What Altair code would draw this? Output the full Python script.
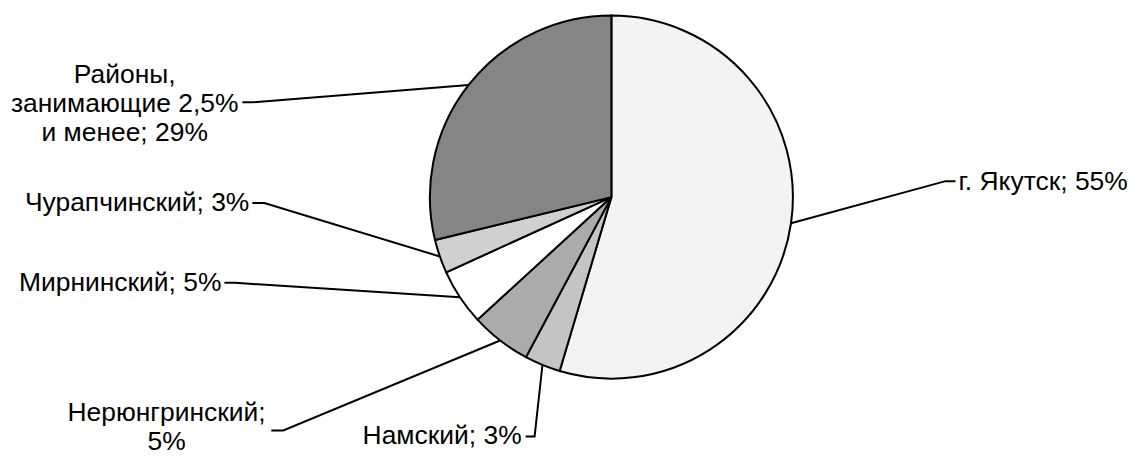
import math
import altair as alt
import pandas as pd

# ---- data ----
categories = ["г. Якутск", "Намский", "Нерюнгринский", "Мирнинский", "Чурапчинский",
              "Районы, занимающие 2,5% и менее"]
shares = [54.6, 3.2, 5.4, 5.0, 3.0, 28.8]
labels = ["г. Якутск; 55%", "Намский; 3%", "Нерюнгринский;\n5%", "Мирнинский; 5%",
          "Чурапчинский; 3%", "Районы,\nзанимающие 2,5%\nи менее; 29%"]
fills = ["#f3f3f3", "#c4c4c4", "#ababab", "#ffffff", "#d0d0d0", "#858585"]

# label anchors (first text line) and leader-line bend/end points (page coordinates)
label_x = [961, 523, 167, 222, 250, 125]
label_y = [182, 437, 414, 283, 203, 75]
label_align = ["left", "right", "center", "right", "right", "center"]
bend_x = [948, 536, 284, 236, 265, 252]
bend_y = [181, 437, 431, 283, 203, 102]
tick_x = [958, 527, 272, 225, 253, 243]

# pie geometry
CX, CY, R = 613, 197, 182
W, H = 1120, 441

pie_df = pd.DataFrame({
    "cat": categories, "share": shares, "ord": list(range(len(categories))),
    "cx": [CX] * len(categories), "cy": [CY] * len(categories),
})

# leader lines: start at the slice edge at its mid angle
rows = []
total = sum(shares)
cum = 0.0
for i, s in enumerate(shares):
    mid = (cum + s / 2) / total * 2 * math.pi
    cum += s
    ex = CX + R * math.sin(mid)
    ey = CY - R * math.cos(mid)
    rows.append({"cat": categories[i], "seq": 0, "x": ex, "y": ey})
    rows.append({"cat": categories[i], "seq": 1, "x": bend_x[i], "y": bend_y[i]})
    rows.append({"cat": categories[i], "seq": 2, "x": tick_x[i], "y": bend_y[i]})
lead_df = pd.DataFrame(rows)

lab_df = pd.DataFrame({"cat": categories, "label": labels, "x": label_x,
                       "y": label_y, "align": label_align})

xs = alt.Scale(domain=[8, 8 + W], nice=False, zero=False)
ys = alt.Scale(domain=[8, 8 + H], nice=False, zero=False, reverse=True)

pie = alt.Chart(pie_df).mark_arc(radius=R, stroke="black", strokeWidth=2).encode(
    theta=alt.Theta("share:Q", stack=True),
    order=alt.Order("ord:Q"),
    color=alt.Color("cat:N", scale=alt.Scale(domain=categories, range=fills), legend=None),
    x=alt.X("cx:Q", scale=xs, axis=None),
    y=alt.Y("cy:Q", scale=ys, axis=None),
)

leaders = alt.Chart(lead_df).mark_line(color="black", strokeWidth=2).encode(
    x=alt.X("x:Q", scale=xs, axis=None),
    y=alt.Y("y:Q", scale=ys, axis=None),
    detail="cat:N",
    order="seq:Q",
)

def text_layer(al):
    return alt.Chart(lab_df).transform_filter(alt.datum.align == al).mark_text(
        align=al, baseline="middle", font="Liberation Sans", fontSize=26.5,
        lineHeight=29, lineBreak="\n", color="black",
    ).encode(
        x=alt.X("x:Q", scale=xs, axis=None),
        y=alt.Y("y:Q", scale=ys, axis=None),
        text="label:N",
    )

chart = alt.layer(pie, leaders, text_layer("left"), text_layer("right"),
                  text_layer("center")).properties(
    width=W, height=H, padding=0
).configure_view(stroke=None)

chart.save("out.html", embed_options={"renderer": "svg", "actions": False})
